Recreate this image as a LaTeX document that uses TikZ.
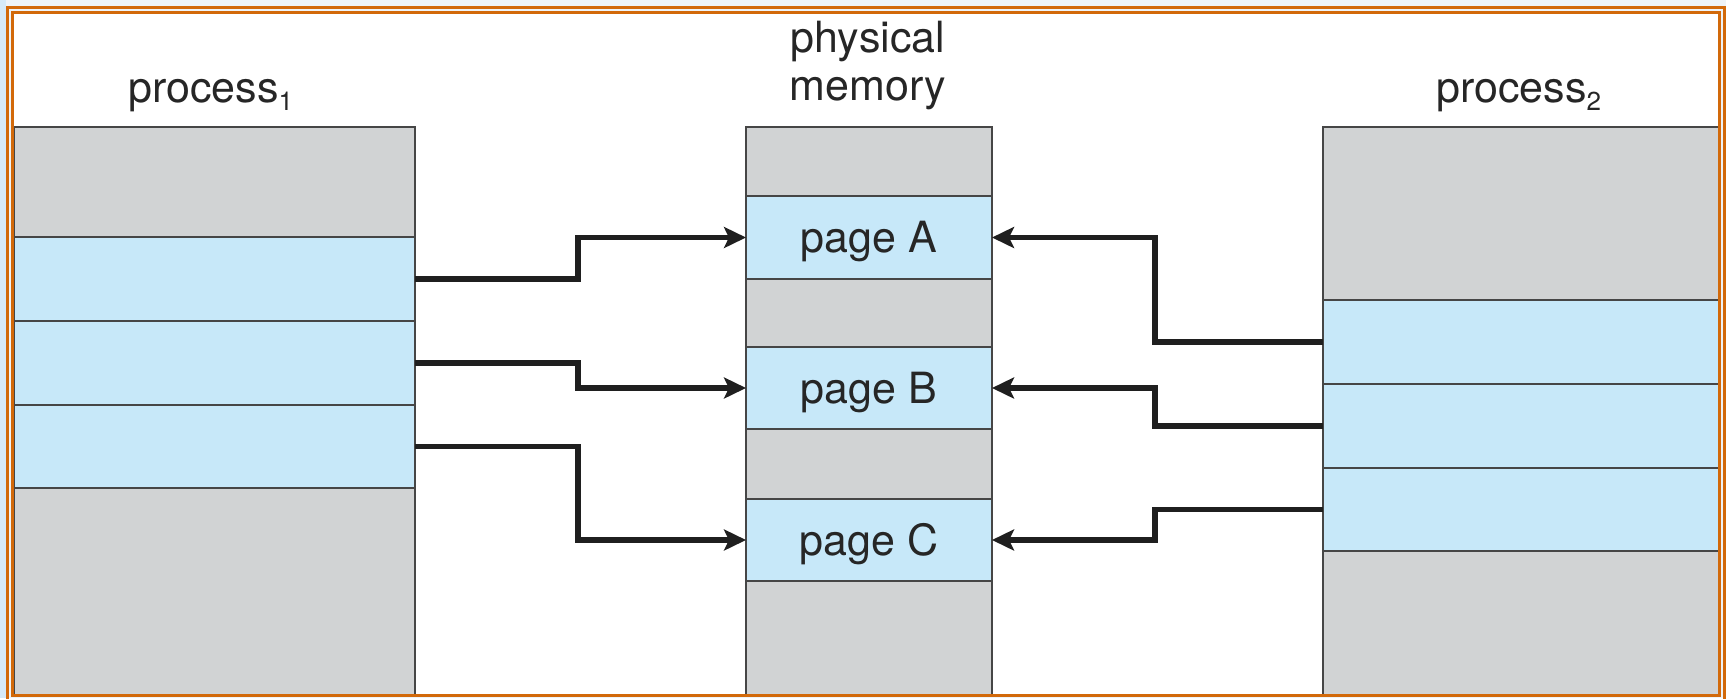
\documentclass[tikz,border=0pt]{standalone}
\usepackage{fontspec}
\setmainfont{TeX Gyre Heros}
\usetikzlibrary{arrows.meta,calc}
\definecolor{cellgrey}{RGB}{209,211,212}
\definecolor{cellblue}{RGB}{199,232,249}
\definecolor{frameor}{RGB}{210,105,10}
\definecolor{outbg}{RGB}{238,243,247}
\definecolor{outblue}{RGB}{214,234,248}
\definecolor{edgegrey}{RGB}{70,70,70}
\newcommand{\mkcell}[7]{\node[#6, minimum width={(#4-#2)*0.5pt}, minimum height={(#5-#3)*0.5pt}] (#1) at ({(#2+#4)/2},{(#3+#5)/2}) {#7};}
\newcommand{\subnum}[1]{\raisebox{-4pt}{\fontsize{13}{13}\selectfont #1}}
\begin{document}
\begin{tikzpicture}[x=0.5pt,y=-0.5pt,
  cellbase/.style={draw=edgegrey, line width=0.9pt, inner sep=0pt, outer sep=0pt, rectangle, font=\fontsize{21.5}{24}\selectfont, text height=15.4pt, text depth=0pt, text=black!85},
  greycell/.style={cellbase, fill=cellgrey},
  bluecell/.style={cellbase, fill=cellblue},
  lbl/.style={font=\fontsize{21.5}{24}\selectfont, inner sep=0pt, text=black!85},
  arr/.style={line width=2.6pt, color=black!88, -{Stealth[length=11pt, width=10.5pt, inset=2.5pt]}},
  frame/.style={draw=frameor, line width=1.5pt}]
\useasboundingbox (0,0) rectangle (1726,698);
\fill[outbg] (0,0) rectangle (1726,698);
\fill[outblue] (0,0) rectangle (6,698);
\fill[white] (12,12) rectangle (1719,695);
% process 1
\mkcell{p1a}{14}{127}{415}{237}{greycell}{}
\mkcell{p1b}{14}{237}{415}{321}{bluecell}{}
\mkcell{p1c}{14}{321}{415}{405}{bluecell}{}
\mkcell{p1d}{14}{405}{415}{488}{bluecell}{}
\mkcell{p1e}{14}{488}{415}{695}{greycell}{}
% physical memory
\mkcell{m1}{746}{127}{992}{196}{greycell}{}
\mkcell{pA}{746}{196}{992}{279}{bluecell}{page A}
\mkcell{m2}{746}{279}{992}{347}{greycell}{}
\mkcell{pB}{746}{347}{992}{429}{bluecell}{page B}
\mkcell{m3}{746}{429}{992}{499}{greycell}{}
\mkcell{pC}{746}{499}{992}{581}{bluecell}{page C}
\mkcell{m4}{746}{581}{992}{695}{greycell}{}
% process 2
\mkcell{q1}{1323}{127}{1719}{300}{greycell}{}
\mkcell{q2}{1323}{300}{1719}{384}{bluecell}{}
\mkcell{q3}{1323}{384}{1719}{468}{bluecell}{}
\mkcell{q4}{1323}{468}{1719}{551}{bluecell}{}
\mkcell{q5}{1323}{551}{1719}{695}{greycell}{}
% labels
\node[lbl, anchor=base west] (lp1) at (128,102) {process\subnum{1}};
\node[lbl, anchor=base west] (lp2) at (1436,102) {process\subnum{2}};
\node[lbl, anchor=base, align=center] (lpm) at (868,100) {physical\\[0pt]memory};
% connectors
\coordinate (lx) at (578,0);
\coordinate (rx) at (1155,0);
\draw[arr] (p1b.east) -| (lx |- pA.west) -- (pA.west);
\draw[arr] (p1c.east) -| (lx |- pB.west) -- (pB.west);
\draw[arr] (p1d.east) -| (lx |- pC.west) -- (pC.west);
\draw[arr] (q2.west) -| (rx |- pA.east) -- (pA.east);
\draw[arr] (q3.west) -| (rx |- pB.east) -- (pB.east);
\draw[arr] (q4.west) -| (rx |- pC.east) -- (pC.east);
% frame
\draw[frame] (7,7) rectangle (1724,702);
\draw[frame] (12,12) rectangle (1719,695);
\end{tikzpicture}
\end{document}
